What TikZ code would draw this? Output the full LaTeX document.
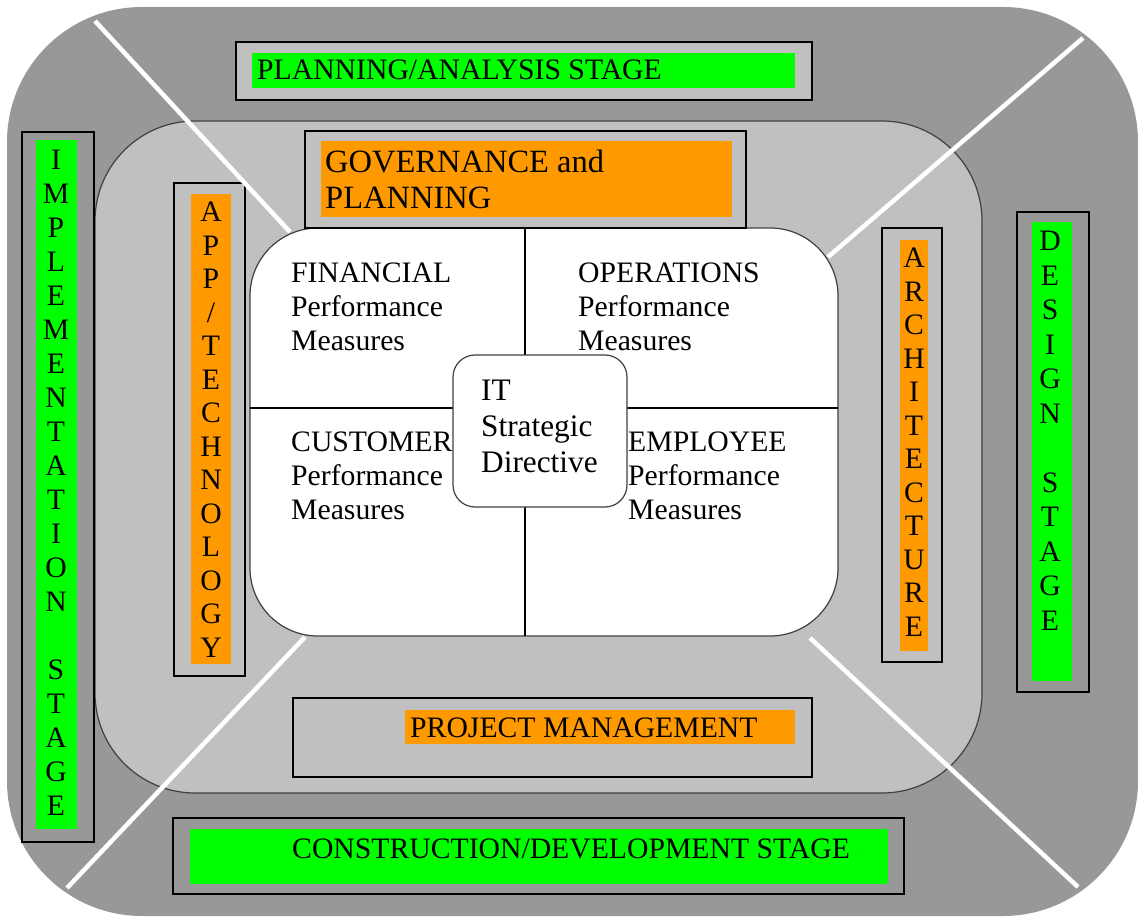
\documentclass[tikz,border=0pt]{standalone}
\usepackage{fontspec}
\setmainfont{Liberation Serif}
\usepackage{tikz}

\definecolor{outergray}{RGB}{152,152,152}
\definecolor{innergray}{RGB}{192,192,192}
\definecolor{stagegreen}{RGB}{0,255,0}
\definecolor{areaorange}{RGB}{255,153,0}

\begin{document}
\begin{tikzpicture}[x=1pt, y=-1pt,
    txt/.style={inner sep=0pt, font=\fontsize{29.7}{34}\selectfont},
    stack/.style={txt, align=center, anchor=north},
    boxline/.style={draw=black, line width=1.5pt},
    ringline/.style={draw=black!75, line width=1.2pt},
    cut/.style={draw=white, line width=4.5pt}]

\useasboundingbox (0,0) rectangle (1138,917);

% rings
\fill[outergray, rounded corners=135pt] (7,7) rectangle (1138,916);
\filldraw[fill=innergray, ringline, rounded corners=100pt] (95,121) rectangle (982,793);
\filldraw[fill=white, ringline, rounded corners=68pt] (250,228) rectangle (838,636);
\draw[line width=1.2pt] (525,228) -- (525,636);
\draw[line width=1.2pt] (250,408) -- (838,408);

% stages
\filldraw[fill=innergray, boxline] (236,42) rectangle (812,100);
\fill[stagegreen] (252,53) rectangle (795,88);
\node[txt, anchor=base west] (plan) at (257,80) {PLANNING/ANALYSIS STAGE};

\draw[boxline] (22,132) rectangle (94,842);
\fill[stagegreen] (36,140) rectangle (77,829);
\node[stack] (impl) at (56,150) {I\\M\\P\\L\\E\\M\\E\\N\\T\\A\\T\\I\\O\\N\\[34pt]S\\T\\A\\G\\E};

\draw[boxline] (1017,212) rectangle (1089,692);
\fill[stagegreen] (1032,222) rectangle (1072,681);
\node[stack, font=\fontsize{29.7}{34.5}\selectfont] (design) at (1050,231) {D\\E\\S\\I\\G\\N\\[34.5pt]S\\T\\A\\G\\E};

\draw[boxline] (173,818) rectangle (904,894);
\fill[stagegreen] (190,829) rectangle (888,884);
\node[txt, anchor=base west] (constr) at (292,858) {CONSTRUCTION/DEVELOPMENT STAGE};

% areas
\draw[boxline] (305,131) rectangle (746,228);
\fill[areaorange] (321,141) rectangle (732,217);
\node[txt, anchor=north west, align=left, font=\fontsize{32.5}{36.7}\selectfont] (gov) at (325,149.5) {GOVERNANCE and\\PLANNING};

\draw[boxline] (174,183) rectangle (245,676);
\fill[areaorange] (191,194) rectangle (231,664);
\node[stack, font=\fontsize{29.7}{33.5}\selectfont] (app) at (211,202) {A\\P\\P\\/\\T\\E\\C\\H\\N\\O\\L\\O\\G\\Y};

\draw[boxline] (882,228) rectangle (942,662);
\fill[areaorange] (900,240) rectangle (928,651);
\node[stack, font=\fontsize{29.7}{33.5}\selectfont] (arch) at (914,248) {A\\R\\C\\H\\I\\T\\E\\C\\T\\U\\R\\E};

\draw[boxline] (293,698) rectangle (812,777);
\fill[areaorange] (405,710) rectangle (795,744);
\node[txt, anchor=base west] (pm) at (410,737) {PROJECT MANAGEMENT};

% measures
\node[txt, anchor=north west, align=left] (fin) at (291,263) {FINANCIAL\\Performance\\Measures};
\node[txt, anchor=north west, align=left] (ops) at (578,263) {OPERATIONS\\Performance\\Measures};
\node[txt, anchor=north west, align=left] (cust) at (291,432) {CUSTOMER\\Performance\\Measures};
\node[txt, anchor=north west, align=left] (emp) at (628,432) {EMPLOYEE\\Performance\\Measures};

\filldraw[fill=white, ringline, rounded corners=22pt] (453,355) rectangle (627,507);
\node[txt, anchor=north west, align=left, font=\fontsize{31.3}{36}\selectfont] (it) at (481,380) {IT\\Strategic\\Directive};

% cuts
\draw[cut] (95,21) -- (290,232);
\draw[cut] (1083,38) -- (828,257);
\draw[cut] (305,637) -- (67,888);
\draw[cut] (810,638) -- (1078,887);
\end{tikzpicture}
\end{document}
